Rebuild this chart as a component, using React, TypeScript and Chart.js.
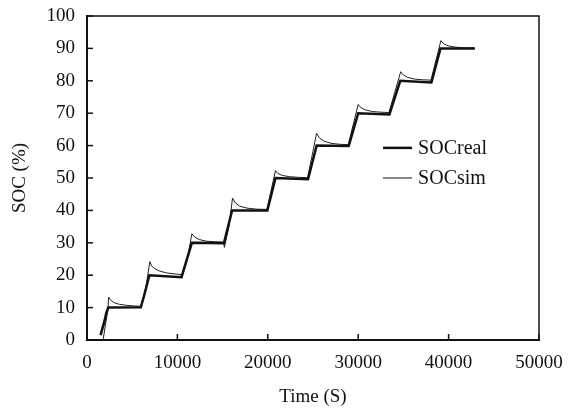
import React, { useEffect, useRef } from "react";
import { Chart, registerables } from "chart.js";

Chart.register(...registerables);

const realTime = [1500, 1900, 2150, 2350, 5950, 6300, 6900, 10450, 11600, 15150, 16050, 19950, 20850, 24450, 25400, 28950, 30000, 33450, 34650, 38100, 39100, 42900];
const realSOC = [1.5, 5.5, 8.5, 10, 10.1, 13.5, 20, 19.4, 30, 29.9, 40, 40, 50, 49.6, 60, 59.9, 70, 69.6, 80, 79.5, 90, 90];

const simTime = [1800, 2000, 2300, 2400, 2600, 3000, 3600, 4400, 5300, 5950, 6500, 6950, 7150, 7500, 8000, 8800, 9700, 10400, 10500, 11100, 11600, 11900, 12400, 13200, 14200, 15100, 15200, 15700, 16100, 16400, 16900, 17700, 18700, 19900, 20850, 21100, 21600, 22400, 23400, 24400, 25400, 25700, 26200, 27000, 28000, 28900, 30000, 30300, 30800, 31600, 32600, 33400, 34700, 35000, 35500, 36300, 37200, 38050, 39150, 39450, 39950, 40700, 41700, 42900];
const simSOC = [0.3, 4, 9, 13.2, 12.3, 11.5, 11, 10.7, 10.5, 10.4, 16, 24.2, 22.8, 22, 21.3, 20.7, 20.4, 20.2, 19.2, 25, 32.8, 31.8, 31, 30.5, 30.3, 30.2, 28.6, 35, 43.8, 42.3, 41.3, 40.7, 40.4, 40.3, 52.3, 51.4, 50.8, 50.4, 50.2, 50.1, 63.8, 62.4, 61.4, 60.7, 60.4, 60.3, 72.7, 71.7, 71, 70.5, 70.3, 70.2, 82.8, 81.8, 81, 80.5, 80.3, 80.2, 92.4, 91.4, 90.8, 90.4, 90.2, 90.1];

const xTicks = [0, 10000, 20000, 30000, 40000, 50000];
const yTicks = [0, 10, 20, 30, 40, 50, 60, 70, 80, 90, 100];

const FONT = "'Liberation Serif', 'DejaVu Serif', serif";

const framePlugin = {
  id: "frame",
  afterDraw(chart: any) {
    const { ctx, chartArea } = chart;
    const { left, right, top, bottom } = chartArea;
    const xs = chart.scales.x;
    const ys = chart.scales.y;
    ctx.save();
    ctx.strokeStyle = "#111";
    ctx.lineWidth = 1.5;
    ctx.beginPath();
    ctx.moveTo(left, top);
    ctx.lineTo(right, top);
    ctx.lineTo(right, bottom);
    ctx.stroke();
    xTicks.forEach((v) => {
      const px = xs.getPixelForValue(v);
      ctx.beginPath();
      ctx.moveTo(px, bottom);
      ctx.lineTo(px, bottom - 6);
      ctx.stroke();
    });
    yTicks.forEach((v) => {
      const py = ys.getPixelForValue(v);
      ctx.beginPath();
      ctx.moveTo(left, py);
      ctx.lineTo(left + 6, py);
      ctx.stroke();
    });
    // legend
    const lx = left + (right - left) * 0.655;
    const rows = [0.407, 0.5];
    chart.data.datasets.forEach((ds: any, i: number) => {
      const ly = top + (bottom - top) * rows[i];
      ctx.strokeStyle = "#111";
      ctx.lineWidth = ds.borderWidth;
      ctx.beginPath();
      ctx.moveTo(lx, ly);
      ctx.lineTo(lx + 29, ly);
      ctx.stroke();
      ctx.fillStyle = "#111";
      ctx.font = `20px ${FONT}`;
      ctx.textBaseline = "middle";
      ctx.textAlign = "left";
      ctx.fillText(ds.label, lx + 35, ly + 1);
    });
    ctx.restore();
  },
};

export default function App() {
  const ref = useRef<HTMLCanvasElement>(null);
  useEffect(() => {
    document.body.style.margin = "0";
    const chart = new Chart(ref.current!, {
      type: "scatter",
      data: {
        datasets: [
          {
            label: "SOCreal",
            data: realTime.map((t, i) => ({ x: t, y: realSOC[i] })),
            showLine: true,
            borderColor: "#111",
            borderWidth: 2.5,
            pointRadius: 0,
            tension: 0,
          },
          {
            label: "SOCsim",
            data: simTime.map((t, i) => ({ x: t, y: simSOC[i] })),
            showLine: true,
            borderColor: "#222",
            borderWidth: 1,
            pointRadius: 0,
            tension: 0,
          },
        ],
      },
      options: {
        animation: false,
        responsive: false,
        maintainAspectRatio: false,
        layout: { padding: { left: 0, top: 16, right: 36, bottom: 0 } },
        plugins: { legend: { display: false }, tooltip: { enabled: false } },
        scales: {
          x: {
            type: "linear",
            min: 0,
            max: 50000,
            afterFit: (s: any) => { s.height = 72; s.paddingLeft = 0; s.paddingRight = 0; },
            afterBuildTicks: (s: any) => { s.ticks = xTicks.map((v) => ({ value: v })); },
            grid: { display: false, drawTicks: false },
            border: { display: true, color: "#111", width: 2 },
            ticks: { padding: 12, color: "#111", font: { family: FONT, size: 19 }, maxRotation: 0, callback: (v: any) => String(v) },
            title: { display: true, text: "Time (S)", color: "#111", font: { family: FONT, size: 19 }, padding: { top: 0, bottom: 4 } },
          },
          y: {
            type: "linear",
            min: 0,
            max: 100,
            afterFit: (s: any) => { s.width = 87; s.paddingTop = 0; s.paddingBottom = 0; },
            afterBuildTicks: (s: any) => { s.ticks = yTicks.map((v) => ({ value: v })); },
            grid: { display: false, drawTicks: false },
            border: { display: true, color: "#111", width: 2 },
            ticks: { padding: 12, color: "#111", font: { family: FONT, size: 19 }, callback: (v: any) => String(v) },
            title: { display: true, text: "SOC (%)", color: "#111", font: { family: FONT, size: 19 }, padding: { top: 9, bottom: 0 } },
          },
        },
      },
      plugins: [framePlugin],
    });
    return () => chart.destroy();
  }, []);
  return (
    <div style={{ width: 575, height: 412, background: "#fff" }}>
      <canvas ref={ref} width={575} height={412} style={{ display: "block" }} />
    </div>
  );
}
